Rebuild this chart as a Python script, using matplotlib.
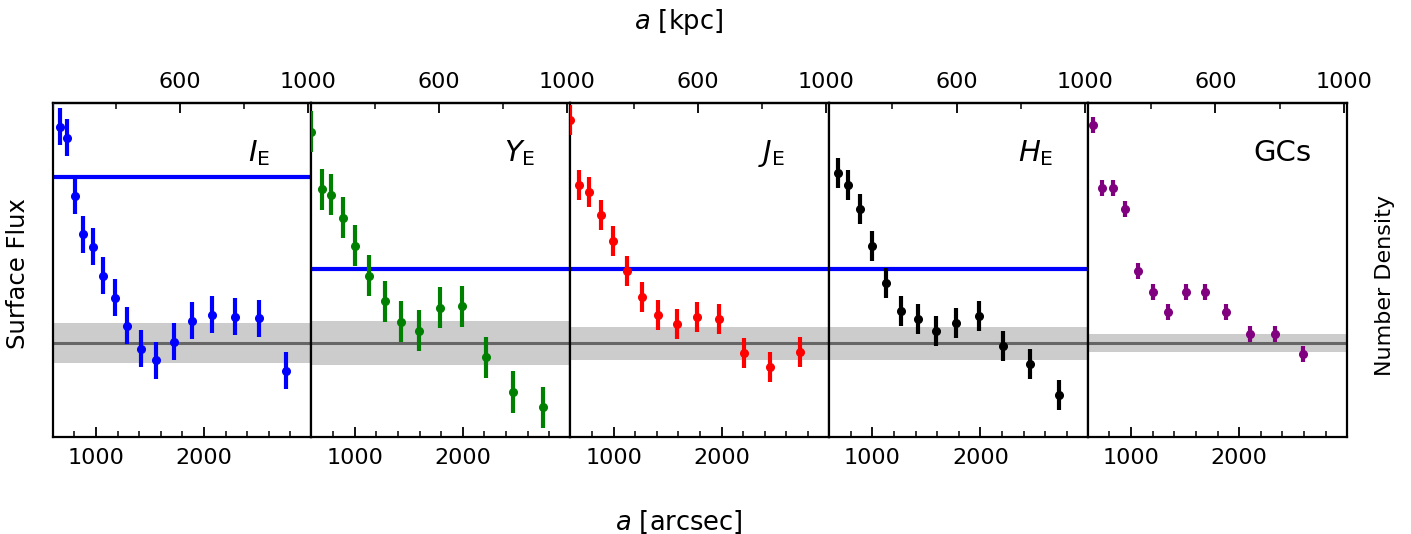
import matplotlib
matplotlib.use("Agg")
import matplotlib.pyplot as plt
from matplotlib.ticker import MultipleLocator, FixedLocator, NullLocator

# ---------------- data ----------------
panel_labels = [r"$I_\mathrm{E}$", r"$Y_\mathrm{E}$", r"$J_\mathrm{E}$", r"$H_\mathrm{E}$", "GCs"]
colors = ["#0000ff", "#008000", "#ff0000", "#000000", "#800080"]

# I_E (blue)
i_x = [598, 668, 735, 804, 884, 971, 1069, 1178, 1292, 1421, 1560, 1718, 1889, 2077, 2283, 2510, 2760]
i_y = [2.52, 2.168, 2.058, 1.478, 1.092, 0.968, 0.678, 0.458, 0.178, -0.055, -0.168, 0.018, 0.228, 0.285, 0.268, 0.252, -0.272]
i_err = [0.185] * 17

# Y_E (green)
y_x = [594, 693, 785, 890, 1001, 1134, 1277, 1431, 1597, 1787, 1991, 2216, 2463, 2738]
y_y = [2.118, 1.542, 1.485, 1.255, 0.975, 0.675, 0.422, 0.218, 0.128, 0.358, 0.372, -0.138, -0.485, -0.635]
y_err = [0.205] * 14

# J_E (red)
j_x = [594, 677, 776, 881, 995, 1122, 1264, 1412, 1585, 1774, 1978, 2207, 2448, 2723]
j_y = [2.235, 1.585, 1.512, 1.285, 1.025, 0.728, 0.462, 0.285, 0.192, 0.265, 0.242, -0.092, -0.232, -0.088]
j_err = [0.15] * 14

# H_E (black)
h_x = [683, 779, 885, 999, 1126, 1267, 1422, 1592, 1777, 1984, 2206, 2457, 2729]
h_y = [1.702, 1.585, 1.345, 0.978, 0.602, 0.328, 0.242, 0.125, 0.202, 0.275, -0.025, -0.205, -0.518]
h_err = [0.15] * 13

# GCs (purple)
g_x = [646, 733, 832, 947, 1064, 1200, 1345, 1508, 1684, 1879, 2096, 2333, 2593]
g_y = [2.185, 1.558, 1.558, 1.348, 0.728, 0.515, 0.312, 0.515, 0.515, 0.312, 0.098, 0.098, -0.105]
g_err = [0.08] * 13

xs = [i_x, y_x, j_x, h_x, g_x]
ys = [i_y, y_y, j_y, h_y, g_y]
errs = [i_err, y_err, j_err, h_err, g_err]

# background level and its uncertainty per panel
bg_level = [0.0, 0.0, 0.0, 0.0, 0.0]
bg_sigma = [0.20, 0.22, 0.165, 0.165, 0.09]
# reference (blue) level per panel (None = not drawn)
ref_level = [1.668, 0.742, 0.742, 0.742, None]

arcsec_per_kpc = 2.967
xlim = (600, 2995)
ylim = (-0.932, 2.402)

# --------------- layout ---------------
label_pos = [(0.797, 0.85), (0.805, 0.85), (0.779, 0.85), (0.799, 0.85), (0.752, 0.85)]

fig = plt.figure(figsize=(14.11, 5.34), dpi=100)
axes = fig.subplots(1, 5, sharey=True, gridspec_kw=dict(wspace=0))
fig.subplots_adjust(left=0.03735, right=0.9544, top=0.8066, bottom=0.1822)

for k, ax in enumerate(axes):
    ax.axhspan(bg_level[k] - bg_sigma[k], bg_level[k] + bg_sigma[k], color="#cccccc", lw=0, zorder=1)
    ax.axhline(bg_level[k], color="#666666", lw=2.2, zorder=2)
    if ref_level[k] is not None:
        ax.axhline(ref_level[k], color="#0000ff", lw=3, zorder=2)
    ax.errorbar(xs[k], ys[k], yerr=errs[k], fmt="o", color=colors[k], ms=5.5,
                elinewidth=3, capsize=0, zorder=3)
    ax.set_xlim(*xlim)
    ax.set_ylim(*ylim)
    ax.xaxis.set_major_locator(MultipleLocator(1000))
    ax.xaxis.set_minor_locator(MultipleLocator(200))
    ax.yaxis.set_major_locator(NullLocator())
    ax.yaxis.set_minor_locator(NullLocator())
    ax.tick_params(axis="x", which="both", direction="in", top=False, bottom=True, labelsize=16, pad=8)
    ax.tick_params(axis="x", which="major", length=7, width=1.3)
    ax.tick_params(axis="x", which="minor", length=4, width=1.1)
    for sp in ax.spines.values():
        sp.set_linewidth(1.6)
    sec = ax.secondary_xaxis("top", functions=(lambda a: a / arcsec_per_kpc, lambda kp: kp * arcsec_per_kpc))
    sec.xaxis.set_major_locator(FixedLocator([600, 1000]))
    sec.xaxis.set_minor_locator(FixedLocator([200, 400, 800]))
    sec.tick_params(axis="x", which="both", direction="in", labelsize=16, pad=8)
    sec.tick_params(axis="x", which="major", length=7, width=1.3)
    sec.tick_params(axis="x", which="minor", length=4, width=1.1)
    sec.spines["top"].set_linewidth(1.6)
    ax.text(label_pos[k][0], label_pos[k][1], panel_labels[k], transform=ax.transAxes,
            ha="center", va="center", fontsize=21)

fig.text(679 / 1411, 1 - 22 / 534, r"$a$ [kpc]", ha="center", va="center", fontsize=18.5)
fig.text(679 / 1411, 1 - 522 / 534, r"$a$ [arcsec]", ha="center", va="center", fontsize=18.5)
fig.text(18 / 1411, 1 - 274 / 534, "Surface Flux", rotation=90, ha="center", va="center", fontsize=17.5)
fig.text(1385 / 1411, 1 - 286 / 534, "Number Density", rotation=90, ha="center", va="center", fontsize=16)

fig.savefig("out.png", dpi=100)
